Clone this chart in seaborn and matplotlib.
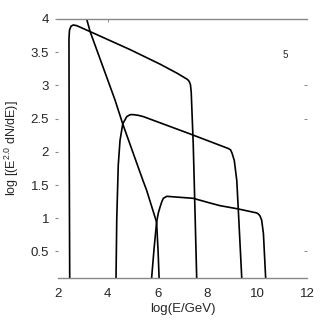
import pandas as pd
import seaborn as sns
import matplotlib.pyplot as plt

# Spectra (log E [GeV], log E^2 dN/dE)
a_x = [2.47, 2.45, 2.44, 2.46, 2.52, 2.61, 2.75, 3.29, 4.89, 6.1, 6.8, 7.2, 7.27, 7.32, 7.35, 7.43, 7.47, 7.57]
a_y = [0.1, 2.0, 3.7, 3.83, 3.89, 3.91, 3.9, 3.81, 3.54, 3.32, 3.18, 3.09, 3.06, 3.01, 2.9, 2.13, 1.57, 0.1]

b_x = [4.33, 4.36, 4.42, 4.49, 4.6, 4.76, 4.9, 5.02, 5.22, 5.43, 7.23, 8.84, 8.93, 8.99, 9.08, 9.18, 9.24, 9.38]
b_y = [0.1, 1.0, 1.8, 2.17, 2.42, 2.53, 2.56, 2.56, 2.55, 2.53, 2.28, 2.05, 2.03, 1.98, 1.87, 1.57, 1.14, 0.1]

c_x = [5.76, 5.86, 5.96, 6.03, 6.1, 6.17, 6.23, 6.37, 7.43, 8.1, 8.5, 9.24, 9.98, 10.06, 10.12, 10.18, 10.25, 10.34]
c_y = [0.1, 0.55, 0.94, 1.08, 1.17, 1.25, 1.3, 1.33, 1.3, 1.23, 1.19, 1.14, 1.08, 1.06, 1.03, 0.97, 0.77, 0.1]

d_x = [3.15, 3.29, 4.29, 4.6, 5.41, 5.56, 5.96, 6.02, 6.06]
d_y = [4.0, 3.81, 2.78, 2.42, 1.57, 1.42, 0.94, 0.5, 0.1]

x_ticks = [2, 4, 6, 8, 10, 12]
y_ticks = [0.5, 1, 1.5, 2, 2.5, 3, 3.5, 4]
y_labels = ['0.5', '1', '1.5', '2', '2.5', '3', '3.5', '4']

frames = []
for name, xs, ys in [('a', a_x, a_y), ('b', b_x, b_y), ('c', c_x, c_y), ('d', d_x, d_y)]:
    frames.append(pd.DataFrame({'curve': name, 'logE': xs, 'flux': ys}))
df = pd.concat(frames, ignore_index=True)

sns.set_style('white')
plt.rcParams['font.family'] = ['Liberation Sans', 'DejaVu Sans']

fig = plt.figure(figsize=(3.27, 3.27), dpi=100)
ax = fig.add_axes([0.1774, 0.1498, 0.7614, 0.7921])

sns.lineplot(data=df, x='logE', y='flux', units='curve', estimator=None, sort=False,
             color='black', linewidth=1.2, ax=ax)

ax.set_xlim(2, 12)
ax.set_ylim(0.1, 4)
ax.set_xticks(x_ticks)
ax.set_xticklabels([str(t) for t in x_ticks])
ax.set_yticks(y_ticks)
ax.set_yticklabels(y_labels)
ax.tick_params(axis='x', length=0, pad=7, labelsize=9.5)
ax.tick_params(axis='y', length=2.5, width=0.8, color='#888888', direction='out', pad=4, labelsize=9.5, left=True)

for side in ['left', 'right']:
    ax.spines[side].set_visible(False)
for side in ['top', 'bottom']:
    ax.spines[side].set_color('#888888')
    ax.spines[side].set_linewidth(1.0)

right = ax.secondary_yaxis('right')
right.set_yticks([0.5, 2.5, 3])
right.set_yticklabels([])
right.tick_params(length=2, width=0.7, color='#888888', direction='in')
right.spines['right'].set_visible(False)

top = ax.secondary_xaxis('top')
top.set_xticks([4])
top.set_xticklabels([])
top.tick_params(length=2, width=0.7, color='#888888', direction='in')
top.spines['top'].set_visible(False)

ax.text(11.12, 3.46, '5', fontsize=7, ha='center', va='center')

ax.set_xlabel('log(E/GeV)', fontsize=9.5, labelpad=2)
ax.set_ylabel(r'log [(E$\mathregular{^{2.0}}$ dN/dE)]', fontsize=9, labelpad=7)

fig.savefig('out.png', dpi=100)
